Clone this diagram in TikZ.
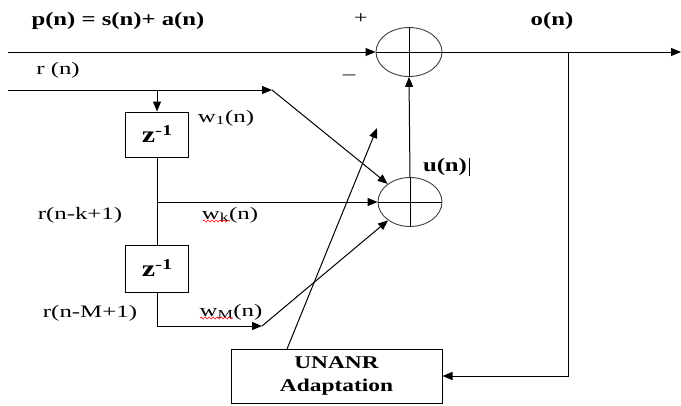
\documentclass[tikz,border=0pt]{standalone}
\usepackage{fontspec}
\setmainfont{Liberation Serif}[FakeStretch=1.42]
\newfontfamily\bfam{Liberation Serif Bold}[FakeStretch=1.3]
\usetikzlibrary{arrows.meta,shapes.geometric,decorations.pathmorphing}
\begin{document}
\begin{tikzpicture}[x=1pt,y=-1pt,
  line width=1pt,
  arr/.style={-{Triangle[length=10pt,width=8pt]}},
  summer/.style={ellipse,draw=black!75,line width=0.9pt,minimum width=66pt,minimum height=49pt,inner sep=0pt},
  zbox/.style={rectangle,draw,minimum width=63pt,minimum height=45pt,inner sep=0pt},
  lbl/.style={inner sep=0pt,font=\fontsize{17.5}{20}\selectfont},
  blbl/.style={inner sep=0pt,font=\fontsize{19}{21}\bfam},
  wavy/.style={draw=red,line width=0.6pt,decorate,decoration={snake,segment length=4pt,amplitude=1pt}}
]
\useasboundingbox (0,0) rectangle (681,405);
% summing junctions
\node[summer] (sT) at (409,52) {};
\node[summer,minimum width=64pt] (sB) at (410,202) {};
\draw[line width=0.9pt] (sT.north) -- (sT.south) (sT.west) -- (sT.east);
\draw[line width=0.9pt] (sB.north) -- (sB.south) (sB.west) -- (sB.east);
% delay boxes
\node[zbox] (z1) at (157,134.5) {\fontsize{23}{25}\bfam z\raisebox{7pt}{\fontsize{15}{16}\selectfont\rmfamily-\bfam1}};
\node[zbox,minimum height=47pt] (z2) at (157,268.5) {\fontsize{23}{25}\bfam z\raisebox{7pt}{\fontsize{15}{16}\selectfont\rmfamily-\bfam1}};
% adaptation
\node[rectangle,draw,minimum width=211pt,minimum height=54pt,align=center,inner sep=0pt,
      font=\fontsize{18}{23}\bfam] (ad) at (336.5,376) {UNANR\\Adaptation};
% coordinates
\coordinate (pin) at (8,52);
\coordinate (out) at (681,52);
\coordinate (rin) at (8,90);
\coordinate (rb) at (157,90);
\coordinate (rm) at (272,90);
\coordinate (tap) at (157,202);
\coordinate (bm) at (262,326);
\coordinate (fb) at (568,52);
\coordinate (at) at (287,349);
\coordinate (ah) at (377,128);
% connectors
\draw[arr] (pin) -- (sT.west);
\draw[arr] (sT.east) -- (out);
\draw[arr] (rin) -- (rm);
\draw[arr] (rm) -- (sB);
\draw[arr] (rb) -- (z1.north);
\draw (z1.south) -- (z2.north);
\draw[arr] (tap) -- (sB.west);
\draw[arr] (z2.south) |- (bm);
\draw[arr] (bm) -- (sB);
\draw[arr] (sB.north) -- (sT.south);
\draw[arr] (fb) |- (ad.east);
\draw[arr] (at) -- (ah);
% labels
\node[blbl] (pn) at (118,21) {p(n) = s(n)+ a(n)};
\node[lbl] (plus) at (361,19) {+};
\node[lbl] (minus) at (349,77) {\textendash};
\node[blbl] (on) at (552,21) {o(n)};
\node[lbl] (rn) at (58,70) {r (n)};
\node[lbl] (w1) at (226,118) {w\textsubscript{1}(n)};
\node[lbl] (rk) at (80,215) {r(n-k+1)};
\node[lbl] (wk) at (230,215) {w\textsubscript{k}(n)};
\node[lbl] (rM) at (90,313) {r(n-M+1)};
\node[lbl] (wM) at (231,312) {w\textsubscript{M}(n)};
\node[blbl] (un) at (445,167) {u(n)};
\draw[line width=0.6pt] ([xshift=2pt]un.east) ++(0,-9) -- ++(0,18);
\draw[wavy] (203,221) -- (230,221);
\draw[wavy] (200,318) -- (233,318);
\end{tikzpicture}
\end{document}
